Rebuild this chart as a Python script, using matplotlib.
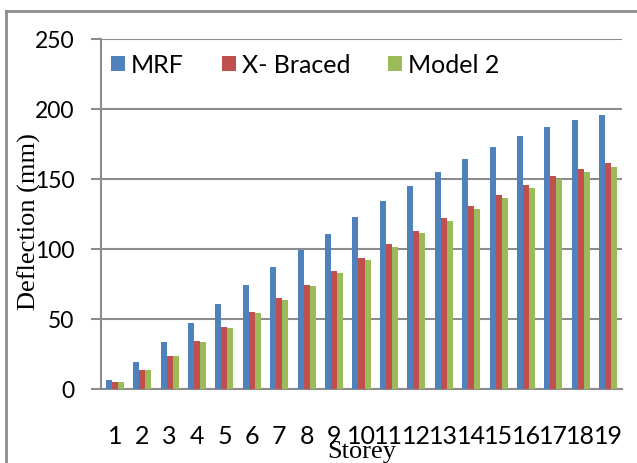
import numpy as np
import matplotlib.pyplot as plt
from matplotlib.lines import Line2D

storeys = [str(i) for i in range(1, 20)]
mrf = [6.5, 19.5, 33.3, 47.1, 60.7, 74, 86.9, 99.5, 111, 122.6,
       134.3, 145, 155.2, 164.5, 173.1, 180.5, 186.9, 191.9, 195.5]
x_braced = [4.8, 13.6, 23.8, 34.3, 44.5, 54.8, 64.8, 74.5, 84, 93.4,
            103.3, 113.1, 121.9, 130.5, 138.6, 146, 152.1, 157.1, 161.4]
model2 = [4.8, 13.6, 23.3, 33.8, 43.8, 54, 63.8, 73.3, 82.6, 91.9,
          101.7, 111.4, 120.2, 128.6, 136.4, 143.6, 149.8, 154.8, 158.8]
series_names = ['MRF', 'X- Braced', 'Model 2']
colors = ['#4F81BD', '#C0504D', '#9BBB59']
yticks = [0, 50, 100, 150, 200, 250]

grid_c = '#8c8c8c'

fig = plt.figure(figsize=(6.37, 4.64), dpi=100)
ax = fig.add_axes([101 / 637, 74 / 464, 521 / 637, 350 / 464])

x = np.arange(len(storeys))
w = 0.22
for k, (vals, name, c) in enumerate(zip([mrf, x_braced, model2], series_names, colors)):
    ax.bar(x + (k - 1) * w, vals, width=w, color=c, label=name, zorder=3)

ax.set_xlim(-0.5, len(storeys) - 0.5)
ax.set_ylim(0, 250)
ax.set_yticks(yticks)
ax.set_xticks(x)
ax.set_xticklabels(storeys)
ax.yaxis.grid(True, color=grid_c, linewidth=1.5)
ax.set_axisbelow(True)

for s in ['top', 'right']:
    ax.spines[s].set_visible(False)
for s in ['left', 'bottom']:
    ax.spines[s].set_color(grid_c)
    ax.spines[s].set_linewidth(1.5)

ax.tick_params(axis='y', length=7, width=1.5, color=grid_c, pad=12,
               labelsize=16.5)
ax.tick_params(axis='x', length=0, pad=25, labelsize=18)
for lab in ax.get_xticklabels() + ax.get_yticklabels():
    lab.set_fontfamily('Lato')

ax.set_ylabel('Deflection (mm)', family='Liberation Serif', fontsize=19)
ax.yaxis.set_label_coords(-0.115, 0.48)
ax.set_xlabel('Storey', family='Liberation Serif', fontsize=19, labelpad=-5)

ax.legend(loc='upper left', bbox_to_anchor=(0.019, 0.96), ncol=3, frameon=False,
          prop={'family': 'Lato', 'size': 18}, handlelength=0.56,
          handleheight=0.56, handletextpad=0.25, columnspacing=1.5,
          borderaxespad=0, borderpad=0)

# outer frame (left and top edges visible)
fig.add_artist(Line2D([6 / 637, 6 / 637], [0, 1 - 12 / 464], color=grid_c,
                      linewidth=2, transform=fig.transFigure))
fig.add_artist(Line2D([6 / 637, 1], [1 - 12 / 464, 1 - 12 / 464], color=grid_c,
                      linewidth=2, transform=fig.transFigure))

plt.savefig('out.png', dpi=100)
